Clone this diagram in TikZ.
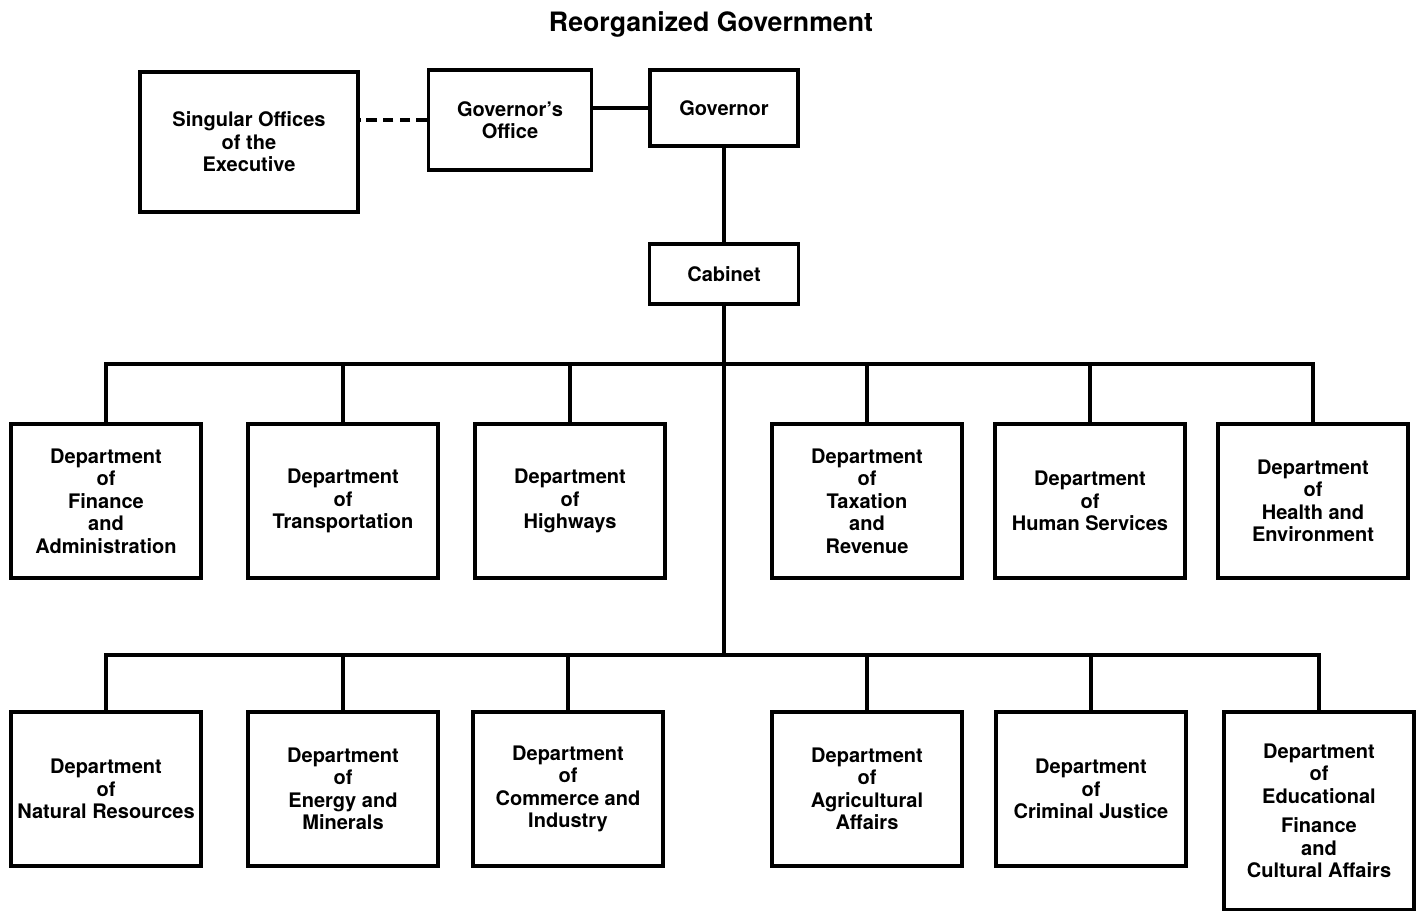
\documentclass[tikz,border=0pt]{standalone}
\usepackage{fontspec}
\setmainfont{TeX Gyre Heros}
\tikzset{
  box/.style={draw=black, line width=2pt, align=center, inner sep=0pt,
    font=\bfseries\fontsize{11.4}{12.8}\selectfont},
  dept/.style={box, minimum width=3.8cm, minimum height=3.08cm},
  wire/.style={line width=2pt}
}
\begin{document}
\begin{tikzpicture}[x=0.02cm, y=-0.02cm]
	\useasboundingbox (0,0) rectangle (1417,911);
	\node[font=\bfseries\fontsize{15.2}{18}\selectfont] (title) at (711,24) {Reorganized Government};
	% top of the chart
	\node[box, minimum width=4.36cm, minimum height=2.8cm] (sing) at (249,142) {Singular Offices\\of the\\Executive};
	\node[box, minimum width=3.26cm, minimum height=2cm] (govoff) at (510,120) {Governor's\\Office};
	\node[box, minimum width=2.96cm, minimum height=1.52cm] (gov) at (724,108) {Governor};
	\node[box, minimum width=2.98cm, minimum height=1.2cm] (cab) at (724,274) {Cabinet};
	\draw[wire] (gov.west) -- (gov.west -| govoff.east);
	\draw[wire, dash pattern=on 6pt off 3.5pt] (govoff.west) -- (govoff.west -| sing.east);
	\draw[wire] (gov) -- (cab);
	\coordinate (bus1) at (724,364);
	\coordinate (bus2) at (724,655);
	\draw[wire] (cab) -- (bus2);
	% first row
	\node[dept] (fin) at (106,501) {Department\\of\\Finance\\and\\Administration};
	\node[dept] (trans) at (343,501) {Department\\of\\Transportation};
	\node[dept] (hwy) at (570,501) {Department\\of\\Highways};
	\node[dept] (tax) at (867,501) {Department\\of\\Taxation\\and\\Revenue};
	\node[dept] (hum) at (1090,501) {Department\\of\\Human Services};
	\node[dept] (health) at (1313,501) {Department\\of\\Health and\\Environment};
	% second row
	\node[dept] (nat) at (106,789) {Department\\of\\Natural Resources};
	\node[dept] (energy) at (343,789) {Department\\of\\Energy and\\Minerals};
	\node[dept] (comm) at (568,789) {Department\\of\\Commerce and\\Industry};
	\node[dept] (agri) at (867,789) {Department\\of\\Agricultural\\Affairs};
	\node[dept] (crim) at (1091,789) {Department\\of\\Criminal Justice};
	\node[dept, minimum height=3.96cm] (edu) at (1319,811) {Department\\of\\Educational\\[4pt]Finance\\and\\Cultural Affairs};
	\foreach \d in {fin,trans,hwy,tax,hum,health}
		\draw[wire] (bus1) -| (\d.north);
	\foreach \d in {nat,energy,comm,agri,crim,edu}
		\draw[wire] (bus2) -| (\d.north);
\end{tikzpicture}
\end{document}
